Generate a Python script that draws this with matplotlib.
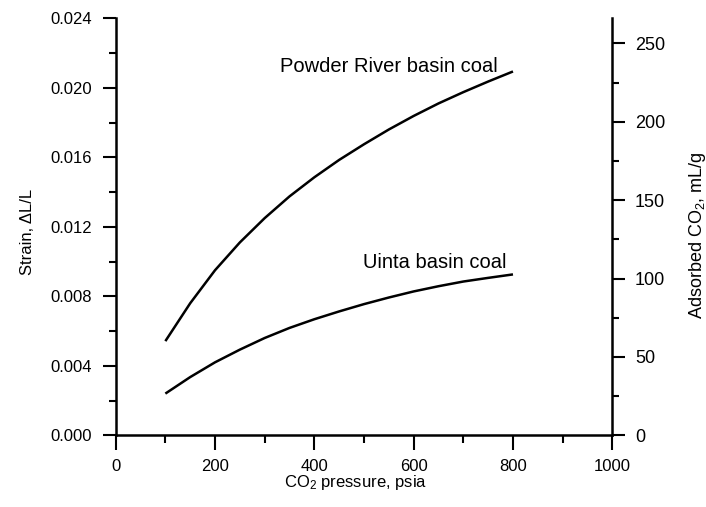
import matplotlib
matplotlib.use('Agg')
import matplotlib.pyplot as plt
from matplotlib.ticker import MultipleLocator, FormatStrFormatter

plt.rcParams['font.family'] = ['Liberation Sans', 'DejaVu Sans']
plt.rcParams['mathtext.fontset'] = 'custom'
plt.rcParams['mathtext.rm'] = 'Liberation Sans'
plt.rcParams['mathtext.it'] = 'Liberation Sans:italic'

# ---- data ----
pressure = [100, 150, 200, 250, 300, 350, 400, 450, 500, 550, 600, 650, 700, 750, 800]
powder_river = [0.00542, 0.00760, 0.00950, 0.01110, 0.01250, 0.01375, 0.01485, 0.01585,
                0.01675, 0.01760, 0.01838, 0.01910, 0.01975, 0.02036, 0.02094]
uinta = [0.00240, 0.00335, 0.00420, 0.00493, 0.00560, 0.00618, 0.00668, 0.00713,
         0.00755, 0.00793, 0.00828, 0.00858, 0.00885, 0.00906, 0.00926]

x_label = "CO$_2$ pressure, psia"
y_left_label = "Strain, \u0394L/L"
y_right_label = "Adsorbed CO$_2$, mL/g"
label_pr = "Powder River basin coal"
label_uinta = "Uinta basin coal"

W, H = 706, 507
fig = plt.figure(figsize=(W / 100, H / 100), dpi=100)
ax = fig.add_axes([115.7 / W, (H - 435.3) / H, (612.3 - 115.7) / W, (435.3 - 18.3) / H])

ax.plot(pressure, powder_river, color='black', lw=1.8, solid_capstyle='butt')
ax.plot(pressure, uinta, color='black', lw=1.8, solid_capstyle='butt')

ax.set_xlim(0, 1000)
ax.set_ylim(0, 0.024)
ax.xaxis.set_major_locator(MultipleLocator(200))
ax.xaxis.set_minor_locator(MultipleLocator(100))
ax.yaxis.set_major_locator(MultipleLocator(0.004))
ax.yaxis.set_minor_locator(MultipleLocator(0.002))
ax.yaxis.set_major_formatter(FormatStrFormatter('%.3f'))

for s in ['top', 'right']:
    ax.spines[s].set_visible(False)
for s in ['left', 'bottom']:
    ax.spines[s].set_linewidth(1.8)

ax.tick_params(axis='x', which='major', direction='out', length=10.8, width=1.5,
               labelsize=12, pad=6)
ax.tick_params(axis='x', which='minor', direction='out', length=5.8, width=1.5)
ax.tick_params(axis='y', which='major', direction='out', length=9.4, width=1.5,
               labelsize=12, pad=8)
ax.tick_params(axis='y', which='minor', direction='out', length=5.0, width=1.5)

ax2 = ax.twinx()
ax2.set_ylim(0, 266)
ax2.yaxis.set_major_locator(MultipleLocator(50))
ax2.yaxis.set_minor_locator(MultipleLocator(25))
for s in ['top', 'left', 'bottom']:
    ax2.spines[s].set_visible(False)
ax2.spines['right'].set_linewidth(1.8)
ax2.tick_params(axis='y', which='major', direction='out', length=9.4, width=1.5,
                labelsize=13, pad=7)
ax2.tick_params(axis='y', which='minor', direction='out', length=5.0, width=1.5)

# axis titles
fig.text(27 / W, 1 - 232 / H, y_left_label, rotation=90, ha='center', va='center', fontsize=12)
fig.text(697 / W, 1 - 235 / H, y_right_label, rotation=90, ha='center', va='center', fontsize=13)
fig.text(356 / W, 1 - 483 / H, x_label, ha='center', va='center', fontsize=12)

# curve labels
fig.text(280 / W, 1 - 72 / H, label_pr, ha='left', va='baseline', fontsize=14.5)
fig.text(363 / W, 1 - 268 / H, label_uinta, ha='left', va='baseline', fontsize=14.5)

fig.savefig('out.png', dpi=100)
